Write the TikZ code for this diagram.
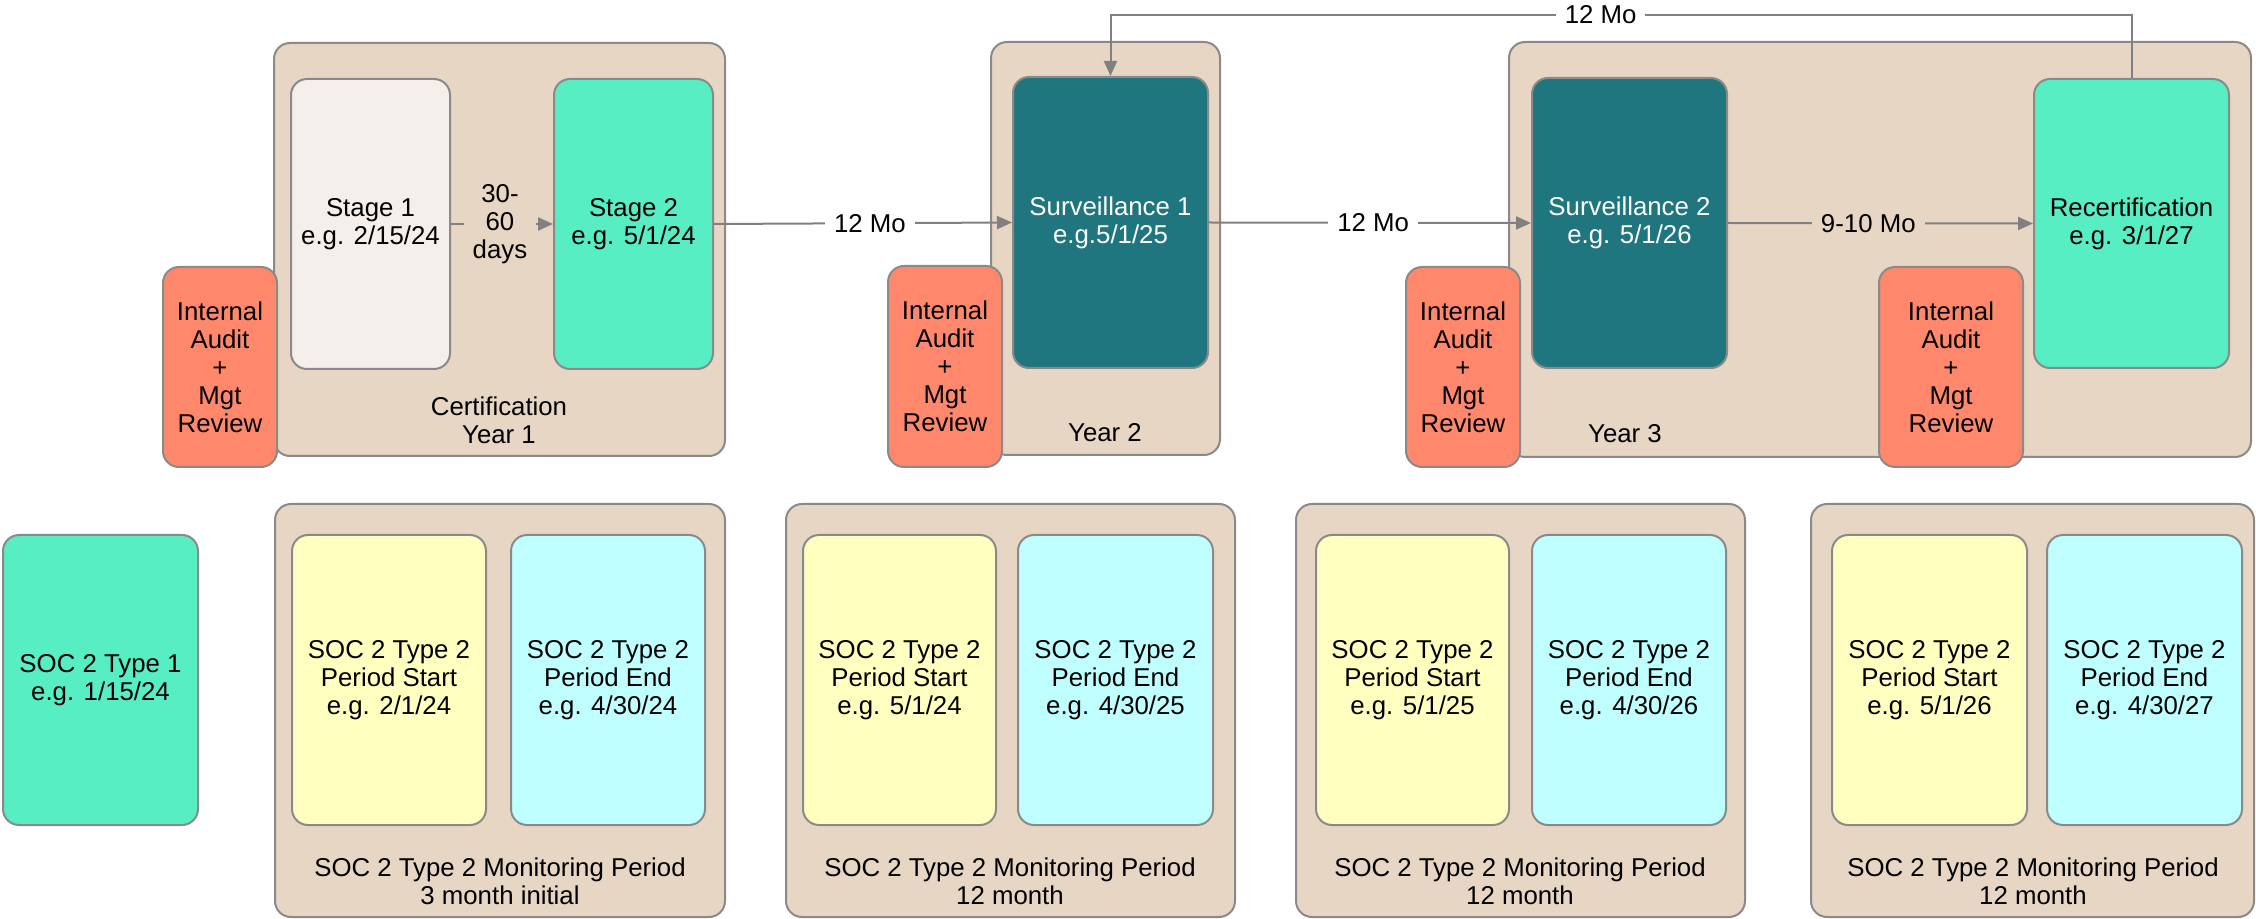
\documentclass[tikz,border=0pt]{standalone}
\usepackage{fontspec}
\setmainfont{Liberation Sans}
\usetikzlibrary{arrows.meta,fit}

\definecolor{sand}{RGB}{230,214,195}
\definecolor{edgegray}{RGB}{138,138,138}
\definecolor{linegray}{RGB}{128,128,128}
\definecolor{paper}{RGB}{244,239,234}
\definecolor{mint}{RGB}{87,238,196}
\definecolor{teal}{RGB}{31,118,126}
\definecolor{salmon}{RGB}{255,136,108}
\definecolor{lemon}{RGB}{255,255,192}
\definecolor{ice}{RGB}{192,255,255}

\begin{document}
\begin{tikzpicture}[x=0.5pt,y=-0.5pt,
  font=\fontsize{12.9}{14}\selectfont,
  panel/.style={draw=edgegray, fill=sand, line width=1pt, rounded corners=8pt, inner sep=0pt},
  card/.style={draw=edgegray, line width=1pt, rounded corners=8pt, inner sep=0pt, align=center},
  wh/.style 2 args={minimum width=#1*0.5pt, minimum height=#2*0.5pt},
  audit/.style={card, fill=salmon},
  darkcard/.style={card, fill=teal, text=white},
  lbl/.style={align=center, inner sep=0pt},
  tag/.style={align=center, inner xsep=4.5pt, inner ysep=1pt},
  flow/.style={draw=linegray, line width=1pt, -{Triangle[length=7.5pt,width=6.5pt]}}
]
\useasboundingbox (0,0) rectangle (2256,919);

% ---------- certification cycle: year panels ----------
\node[panel, fit={(274,43) (725,456)}] (y1) {};
\node[panel, fit={(991,42) (1220,455)}] (y2) {};
\node[panel, fit={(1509,42) (2251,457)}] (y3) {};

\node[lbl] (y1lbl) at (499,420) {Certification\\Year 1};
\node[lbl] (y2lbl) at (1105,433) {Year 2};
\node[lbl] (y3lbl) at (1625,434) {Year 3};

% audits
\node[card, fill=paper, wh={159}{290}] (s1) at (370.5,224) {Stage 1\\e.g. 2/15/24};
\node[card, fill=mint, wh={159}{290}] (s2) at (633.5,224) {Stage 2\\e.g. 5/1/24};
\node[darkcard, wh={195}{291}] (sv1) at (1110.5,222.5) {Surveillance 1\\e.g.5/1/25};
\node[darkcard, wh={195}{290}] (sv2) at (1629.5,223) {Surveillance 2\\e.g. 5/1/26};
\node[card, fill=mint, wh={195}{289}] (rc) at (2131.5,223.5) {Recertification\\e.g. 3/1/27};

% internal audit + management review
\node[audit, wh={114}{200}] (ia1) at (220,367) {Internal\\Audit\\+\\Mgt\\Review};
\node[audit, wh={114}{201}] (ia2) at (945,366.5) {Internal\\Audit\\+\\Mgt\\Review};
\node[audit, wh={114}{200}] (ia3) at (1463,367) {Internal\\Audit\\+\\Mgt\\Review};
\node[audit, wh={144}{200}] (ia4) at (1951,367) {Internal\\Audit\\+\\Mgt\\Review};

% timeline connectors
\draw[flow] (s1.east) -- node[pos=0.48, fill=sand, tag] (gap1) {30-\\60\\days} (s2.west);
\draw[flow] (s2.east) -- node[pos=0.523, fill=white, tag] (gap2) {12 Mo} (sv1.west);
\draw[flow] (sv1.east) -- node[pos=0.51, fill=white, tag] (gap3) {12 Mo} (sv2.west);
\draw[flow] (sv2.east) -- node[pos=0.46, fill=sand, tag] (gap4) {9-10 Mo} (rc.west);
\coordinate (looptop) at (0,15);
\draw[flow] (rc.north) |- node[pos=0.76, fill=white, tag] (gap5) {12 Mo} (looptop -| sv1.north) -- (sv1.north);

% ---------- SOC 2 row ----------
\node[card, fill=mint, wh={195}{290}] (soc1) at (100.5,680) {SOC 2 Type 1\\e.g. 1/15/24};

\node[panel, fit={(275,504) (725,917)}] (m1) {};
\node[panel, fit={(786,504) (1235,917)}] (m2) {};
\node[panel, fit={(1296,504) (1745,917)}] (m3) {};
\node[panel, fit={(1811,504) (2254,917)}] (m4) {};

\node[lbl] (m1lbl) at (500,881) {SOC 2 Type 2 Monitoring Period\\3 month initial};
\node[lbl] (m2lbl) at (1010,881) {SOC 2 Type 2 Monitoring Period\\12 month};
\node[lbl] (m3lbl) at (1520,881) {SOC 2 Type 2 Monitoring Period\\12 month};
\node[lbl] (m4lbl) at (2033,881) {SOC 2 Type 2 Monitoring Period\\12 month};

\node[card, fill=lemon, wh={194}{290}] (ps1) at (389,680) {SOC 2 Type 2\\Period Start\\e.g. 2/1/24};
\node[card, fill=ice, wh={194}{290}] (pe1) at (608,680) {SOC 2 Type 2\\Period End\\e.g. 4/30/24};
\node[card, fill=lemon, wh={193}{290}] (ps2) at (899.5,680) {SOC 2 Type 2\\Period Start\\e.g. 5/1/24};
\node[card, fill=ice, wh={195}{290}] (pe2) at (1115.5,680) {SOC 2 Type 2\\Period End\\e.g. 4/30/25};
\node[card, fill=lemon, wh={193}{290}] (ps3) at (1412.5,680) {SOC 2 Type 2\\Period Start\\e.g. 5/1/25};
\node[card, fill=ice, wh={194}{290}] (pe3) at (1629,680) {SOC 2 Type 2\\Period End\\e.g. 4/30/26};
\node[card, fill=lemon, wh={195}{290}] (ps4) at (1929.5,680) {SOC 2 Type 2\\Period Start\\e.g. 5/1/26};
\node[card, fill=ice, wh={195}{290}] (pe4) at (2144.5,680) {SOC 2 Type 2\\Period End\\e.g. 4/30/27};
\end{tikzpicture}
\end{document}
